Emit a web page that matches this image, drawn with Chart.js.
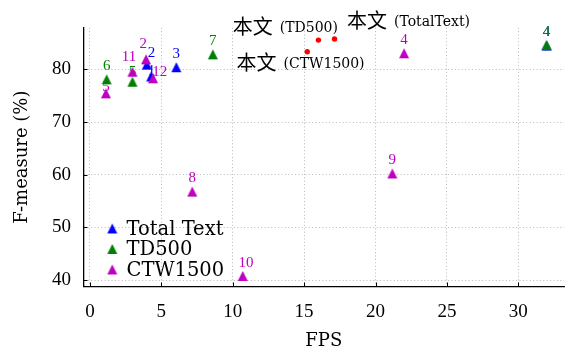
<!DOCTYPE html>
<html><head><meta charset="utf-8">
<script src="https://cdn.jsdelivr.net/npm/chart.js@4.4.1/dist/chart.umd.min.js"></script>
<style>html,body{margin:0;padding:0;background:#fff}canvas{display:block}</style>
</head><body>
<canvas id="c" width="570" height="353"></canvas>
<script>
// ---- data ----
const seriesNames = ['Total Text', 'TD500', 'CTW1500'];
const totalTextX = [4.29, 3.98, 6.05, 31.98];
const totalTextY = [78.65, 80.9, 80.4, 84.5];
const totalTextLabels = ['1', '2', '3', '4'];
const td500X = [2.98, 1.17, 8.61, 31.98];
const td500Y = [77.65, 78.1, 82.85, 84.6];
const td500Labels = ['5', '6', '7', '4'];
const ctwX = [3.93, 22.0, 1.12, 7.17, 21.18, 10.7, 2.98, 4.42];
const ctwY = [81.9, 83.05, 75.45, 56.8, 60.25, 40.8, 79.55, 78.3];
const ctwLabels = ['2', '4', '5', '8', '9', '10', '11', '12'];
const oursX = [16.0, 17.13, 15.22];
const oursY = [85.55, 85.75, 83.35];
const oursText = ['本文', '本文', '本文'];
const oursTags = ['(TD500)', '(TotalText)', '(CTW1500)'];
const oursTextX = [10.0, 18.0, 10.27];
const oursTextY = [88.2, 89.35, 81.4];
const xTicks = [0, 5, 10, 15, 20, 25, 30];
const yTicks = [40, 50, 60, 70, 80];
const xTitle = 'FPS';
const yTitle = 'F-measure (%)';

// ---- styles ----
const colors = ['#0000ff', '#008000', '#bf00bf'];
const SERIF = '"Liberation Serif", "DejaVu Serif", serif';
const WIDE = '"DejaVu Serif", serif';
Chart.defaults.font.family = SERIF;
Chart.defaults.color = '#000';

// pixel nudges for point-number labels (default: centred 13.5px above)
const labelNudge = {
  'Total Text:1': [0.2, -5.5], 'Total Text:2': [4.7, -11.5],
  'TD500:5': [0, -9.5],
  'CTW1500:2': [-2.7, -15], 'CTW1500:5': [0, -6], 'CTW1500:10': [3.4, -12.7],
  'CTW1500:11': [-3.4, -15], 'CTW1500:12': [6.7, -6.3]
};

function triImg(color) {
  const c = document.createElement('canvas');
  c.width = 12; c.height = 12;
  const g = c.getContext('2d');
  g.fillStyle = color;
  g.beginPath();
  g.moveTo(6, 1); g.lineTo(1, 11); g.lineTo(11, 11);
  g.closePath(); g.fill();
  return c;
}
const tris = colors.map(triImg);
const pts = (xs, ys) => xs.map((x, i) => ({ x: x, y: ys[i] }));

const labelSets = [
  { name: seriesNames[0], x: totalTextX, y: totalTextY, labels: totalTextLabels, color: colors[0] },
  { name: seriesNames[1], x: td500X, y: td500Y, labels: td500Labels, color: colors[1] },
  { name: seriesNames[2], x: ctwX, y: ctwY, labels: ctwLabels, color: colors[2] }
];

const overlay = {
  id: 'overlay',
  beforeDatasetsDraw(chart) {
    const ctx = chart.ctx, xs = chart.scales.x, ys = chart.scales.y;
    ctx.save();
    ctx.font = '15px ' + SERIF;
    ctx.textAlign = 'center';
    ctx.textBaseline = 'middle';
    labelSets.forEach(s => {
      ctx.fillStyle = s.color;
      s.x.forEach((v, i) => {
        const n = labelNudge[s.name + ':' + s.labels[i]] || [0, -13.5];
        ctx.fillText(s.labels[i], xs.getPixelForValue(v) + n[0], ys.getPixelForValue(s.y[i]) + n[1]);
      });
    });
    ctx.restore();
  },
  afterDraw(chart) {
    const ctx = chart.ctx, xs = chart.scales.x, ys = chart.scales.y, a = chart.chartArea;
    ctx.save();
    // inward tick marks
    ctx.strokeStyle = '#000';
    ctx.lineWidth = 1;
    xs.ticks.forEach(t => {
      const p = Math.round(xs.getPixelForValue(t.value)) + 0.5;
      ctx.beginPath(); ctx.moveTo(p, a.bottom); ctx.lineTo(p, a.bottom - 4); ctx.stroke();
    });
    ys.ticks.forEach(t => {
      const p = Math.round(ys.getPixelForValue(t.value)) + 0.5;
      ctx.beginPath(); ctx.moveTo(a.left, p); ctx.lineTo(a.left + 4, p); ctx.stroke();
    });
    // legend
    ctx.font = '19.5px ' + WIDE;
    ctx.textAlign = 'left';
    ctx.textBaseline = 'middle';
    ctx.fillStyle = '#000';
    seriesNames.forEach((n, i) => {
      const y = a.bottom - 58 + i * 20.5;
      ctx.drawImage(tris[i], a.left + 28.8 - 6, y - 6);
      ctx.fillText(n, a.left + 43, y + 1);
    });
    // annotations
    oursText.forEach((t, i) => {
      const x = xs.getPixelForValue(oursTextX[i]);
      const y = ys.getPixelForValue(oursTextY[i]);
      ctx.font = '20px "Noto Sans CJK SC"';
      ctx.fillText(t, x, y);
      const w = ctx.measureText(t).width;
      ctx.font = '14px ' + WIDE;
      ctx.fillText(oursTags[i], x + w + 7, y + 2);
    });
    ctx.restore();
  }
};

const gridOpts = { color: '#b0b0b0', lineWidth: 0.9, drawTicks: false };

new Chart(document.getElementById('c'), {
  type: 'scatter',
  data: {
    datasets: [
      { label: seriesNames[0], order: 3, data: pts(totalTextX, totalTextY), pointStyle: tris[0], pointRadius: 5, backgroundColor: colors[0] },
      { label: seriesNames[1], order: 2, data: pts(td500X, td500Y), pointStyle: tris[1], pointRadius: 5, backgroundColor: colors[1] },
      { label: seriesNames[2], order: 1, data: pts(ctwX, ctwY), pointStyle: tris[2], pointRadius: 5, backgroundColor: colors[2] },
      { label: 'ours', order: 0, data: pts(oursX, oursY), pointStyle: 'circle', pointRadius: 2.7, backgroundColor: '#ff0000', borderWidth: 0 }
    ]
  },
  options: {
    responsive: false,
    animation: false,
    layout: { padding: { top: 27.7, right: 4, left: 0, bottom: 0 } },
    plugins: { legend: { display: false }, tooltip: { enabled: false } },
    scales: {
      x: {
        type: 'linear', min: -0.45, max: 33.2,
        afterBuildTicks: ax => { ax.ticks = xTicks.map(v => ({ value: v })); },
        afterFit: ax => { ax.height = 66.5; },
        ticks: { font: { size: 19 }, color: '#000', padding: 14, maxRotation: 0 },
        grid: gridOpts,
        border: { color: '#000', width: 1.3, dash: [1, 2.4] },
        title: { display: true, text: xTitle, font: { size: 18, family: WIDE }, color: '#000', padding: { top: 0, bottom: 1.2 } }
      },
      y: {
        type: 'linear', min: 38.8, max: 87.9,
        afterBuildTicks: ax => { ax.ticks = yTicks.map(v => ({ value: v })); },
        afterFit: ax => { ax.width = 83.5; },
        ticks: { font: { size: 19 }, color: '#000', padding: 12.5 },
        grid: gridOpts,
        border: { color: '#000', width: 1.3, dash: [1, 2.4] },
        title: { display: true, text: yTitle, font: { size: 18, family: WIDE }, color: '#000', padding: { top: 11.2, bottom: 0 } }
      }
    }
  },
  plugins: [overlay]
});
</script>
</body></html>
